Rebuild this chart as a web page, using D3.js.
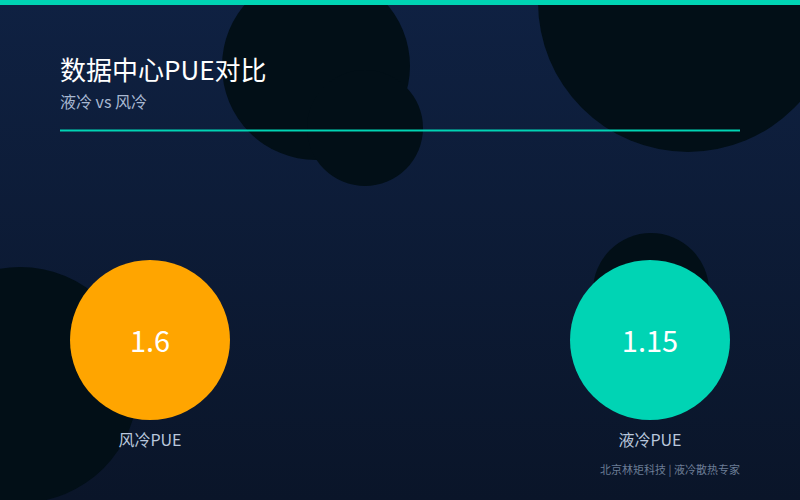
<!DOCTYPE html>
<html><head><meta charset="utf-8">
<script src="https://cdn.jsdelivr.net/npm/d3@7"></script>
<style>html,body{margin:0;padding:0;background:#0c1a36;}svg{display:block;}</style>
</head><body>
<svg id="c" width="800" height="500"></svg>
<script>
const categories = ["风冷PUE", "液冷PUE"];
const values = [1.6, 1.15];
const colors = ["#FFA500", "#00D4B4"];
const title = "数据中心PUE对比";
const subtitle = "液冷 vs 风冷";
const footer = "北京林矩科技 | 液冷散热专家";

const W = 800, H = 500;
const svg = d3.select("#c");
const font = "'Noto Sans CJK SC','Noto Sans',sans-serif";

const defs = svg.append("defs");
const g = defs.append("linearGradient").attr("id","bg").attr("x1",0).attr("y1",0).attr("x2",0).attr("y2",1);
g.append("stop").attr("offset","0%").attr("stop-color","#0f2142");
g.append("stop").attr("offset","100%").attr("stop-color","#0a1529");
svg.append("rect").attr("width",W).attr("height",H).attr("fill","url(#bg)");

// decorative circles
const deco = [[316,66,94],[365,128,58],[688,2,150],[20,385,118],[651,291,58]];
svg.selectAll("circle.deco").data(deco).join("circle").attr("class","deco")
  .attr("cx",d=>d[0]).attr("cy",d=>d[1]).attr("r",d=>d[2]).attr("fill","#020f17");

svg.append("rect").attr("x",0).attr("y",0).attr("width",W).attr("height",5).attr("fill","#00D4B4");

svg.append("text").attr("x",60).attr("y",80).attr("fill","#ffffff")
  .attr("font-family",font).attr("font-size",26).text(title);
svg.append("text").attr("x",60).attr("y",108).attr("fill","#a9b9d2")
  .attr("font-family",font).attr("font-size",16).text(subtitle);
svg.append("line").attr("x1",60).attr("x2",740).attr("y1",130.5).attr("y2",130.5)
  .attr("stroke","#00D4B4").attr("stroke-width",2);

const x = d3.scalePoint().domain(categories).range([150,650]);
const cy = 340, r = 80;
const gr = svg.selectAll("g.item").data(categories).join("g").attr("class","item")
  .attr("transform",d=>`translate(${x(d)},${cy})`);
gr.append("circle").attr("r",r).attr("fill",(d,i)=>colors[i]);
gr.append("text").attr("text-anchor","middle").attr("dy","0.35em").attr("y",2)
  .attr("fill","#ffffff").attr("font-family",font).attr("font-size",29)
  .text((d,i)=>values[i]);
gr.append("text").attr("text-anchor","middle").attr("y",106)
  .attr("fill","#b9c7dc").attr("font-family",font).attr("font-size",16)
  .text(d=>d);

svg.append("text").attr("x",740).attr("y",474).attr("text-anchor","end")
  .attr("fill","#6c7d96").attr("font-family",font).attr("font-size",11).text(footer);
</script>
</body></html>
